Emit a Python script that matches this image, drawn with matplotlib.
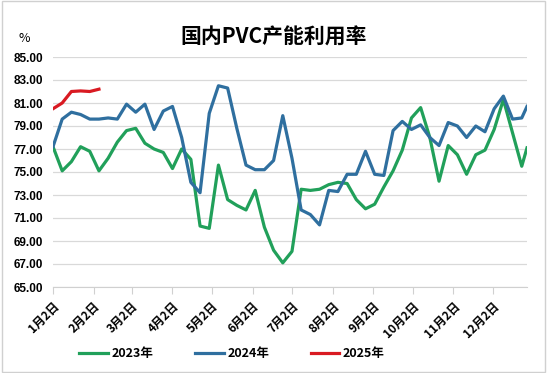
import pandas as pd
import matplotlib
matplotlib.use('Agg')
from matplotlib import pyplot as plt
from matplotlib.patches import Rectangle

plt.rcParams['font.family'] = ['Noto Sans CJK SC', 'DejaVu Sans']

# weekly dates (date axis), last point is a short week
dates = list(pd.date_range('2024-01-02', periods=52, freq='7D')) + [pd.Timestamp('2024-12-28')]

y2023 = [77.2, 75.1, 75.9, 77.2, 76.8, 75.1, 76.2, 77.6, 78.6, 78.8,
         77.5, 77.0, 76.7, 75.3, 77.0, 76.1, 70.3, 70.1, 75.6, 72.6,
         72.1, 71.7, 73.4, 70.2, 68.2, 67.1, 68.1, 73.5, 73.4, 73.5,
         73.9, 74.1, 74.0, 72.6, 71.8, 72.2, 73.7, 75.1, 76.9, 79.7,
         80.6, 78.0, 74.2, 77.3, 76.5, 74.8, 76.5, 76.9, 78.7, 81.3,
         78.4, 75.5, 77.1]
y2024 = [77.2, 79.6, 80.2, 80.0, 79.6, 79.6, 79.7, 79.6, 80.9, 80.2,
         80.9, 78.7, 80.3, 80.7, 78.0, 74.1, 73.2, 80.1, 82.5, 82.3,
         78.8, 75.6, 75.2, 75.2, 76.0, 79.9, 76.2, 71.7, 71.3, 70.4,
         73.4, 73.3, 74.8, 74.8, 76.8, 74.8, 74.7, 78.6, 79.4, 78.7,
         79.1, 78.0, 77.3, 79.3, 79.0, 78.0, 79.0, 78.5, 80.5, 81.6,
         79.6, 79.7, 80.7]
y2025 = [80.5, 81.0, 82.0, 82.05, 82.0, 82.2]

tick_dates = [pd.Timestamp(2024, m, 2) for m in range(1, 13)]
tick_labels = [f'{m}月2日' for m in range(1, 13)]
yticks = [65, 67, 69, 71, 73, 75, 77, 79, 81, 83, 85]

fig = plt.figure(figsize=(5.47, 3.73), dpi=100)
ax = fig.add_axes([53/547, 1-287/373, 474/547, 230/373])

ax.plot(dates, y2023, c='#21a05a', lw=2.3, label='2023年')
ax.plot(dates, y2024, c='#2f6f9f', lw=2.3, label='2024年')
ax.plot(dates[:len(y2025)], y2025, c='#d91a22', lw=2.3, label='2025年')

ax.set_xlim(dates[0], dates[-1])
ax.set_ylim(65, 85)
ax.set_yticks(yticks)
ax.set_yticklabels([f'{v:.2f}' for v in yticks], fontfamily='Liberation Sans',
                   fontweight='bold', fontsize=8.5)
ax.set_xticks(tick_dates)
ax.set_xticklabels(tick_labels, rotation=45, ha='right', rotation_mode='anchor',
                   fontweight='bold', fontsize=8.5)
ax.tick_params(axis='y', length=0, pad=7)
ax.tick_params(axis='x', length=5, color='#d0d0d0', pad=4)
ax.grid(axis='y', color='#d9d9d9', lw=0.9)
ax.set_axisbelow(True)
for s in ['top', 'right', 'left']:
    ax.spines[s].set_visible(False)
ax.spines['bottom'].set_color('#d0d0d0')

fig.text(0.5, 1-37/373, '国内PVC产能利用率', ha='center', va='center',
         fontsize=15, fontweight='bold')
fig.text(24/547, 1-39/373, '%', ha='center', va='center', fontsize=9)

fig.legend(loc='center left', bbox_to_anchor=(68/547, 1-354/373), ncol=3,
           frameon=False, prop={'weight': 'bold', 'size': 9},
           handlelength=2.3, handletextpad=0.3, columnspacing=3.3)

fig.patches.append(Rectangle((0.003, 0.004), 0.994, 0.992, transform=fig.transFigure,
                             fill=False, edgecolor='#d0d0d0', lw=1))

fig.savefig('out.png', dpi=100, facecolor='white')
